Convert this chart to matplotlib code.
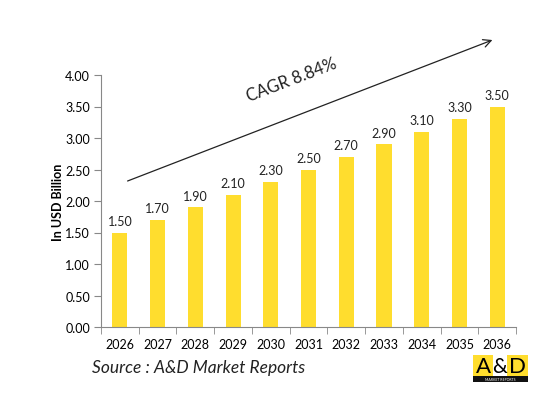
import numpy as np
import matplotlib.pyplot as plt
from matplotlib.patches import Rectangle

years = ['2026', '2027', '2028', '2029', '2030', '2031', '2032', '2033', '2034', '2035', '2036']
values = [1.50, 1.70, 1.90, 2.10, 2.30, 2.50, 2.70, 2.90, 3.10, 3.30, 3.50]
y_ticks = [0.0, 0.5, 1.0, 1.5, 2.0, 2.5, 3.0, 3.5, 4.0]

plt.rcParams['font.family'] = ['Lato', 'DejaVu Sans']

W, H = 558, 410
fig = plt.figure(figsize=(W / 100, H / 100), dpi=100)
ax = fig.add_axes([101 / W, 1 - 328 / H, (516 - 101) / W, (328 - 76) / H])

x = np.arange(len(years))
ax.bar(x, values, width=0.4, color='#FFDD2E')
for xi, v in zip(x, values):
    ax.text(xi, v + 0.09, f'{v:.2f}', ha='center', va='bottom', fontsize=9, color='#222222')

ax.set_xlim(-0.5, len(years) - 0.5)
ax.set_ylim(0, 4)
ax.set_yticks(y_ticks)
ax.set_yticklabels([f'{t:.2f}' for t in y_ticks], fontsize=9)
ax.set_xticks(x)
ax.set_xticklabels(years, fontsize=9)
ax.set_xticks(np.arange(len(years) + 1) - 0.5, minor=True)
ax.tick_params(axis='x', which='major', length=0, pad=8)
ax.tick_params(axis='x', which='minor', length=5, color='#888888')
ax.tick_params(axis='y', length=5, color='#888888', pad=3)
for s in ['top', 'right']:
    ax.spines[s].set_visible(False)
for s in ['left', 'bottom']:
    ax.spines[s].set_color('#888888')
ax.set_ylabel('In USD Billion', fontsize=9, fontweight='bold', labelpad=1)

# CAGR arrow and label (figure pixel coords)
fig.patches.append(plt.matplotlib.patches.FancyArrowPatch(
    (125 / W, 1 - 183 / H), (495 / W, 1 - 40 / H), transform=fig.transFigure,
    arrowstyle='->', mutation_scale=14, color='#222222', lw=0.9))
fig.text(292 / W, 1 - 80 / H, 'CAGR 8.84%', fontsize=12, rotation=21,
         ha='center', va='center', color='#222222')

fig.text(92 / W, 1 - 368 / H, 'Source : A&D Market Reports', fontsize=12.5,
         style='italic', ha='left', va='center', color='#222222')

# logo
lx0, lx1, ly0, ly1 = 473, 528, 356, 383
def fr(x0, y0, x1, y1, c):
    fig.patches.append(Rectangle((x0 / W, 1 - y1 / H), (x1 - x0) / W, (y1 - y0) / H,
                                 transform=fig.transFigure, color=c, lw=0))
fr(lx0, ly0, 493, 377, '#FFDD2E')
fr(493, ly0, 507, 377, 'white')
fr(507, ly0, lx1, 377, '#FFDD2E')
fr(lx0, 377, lx1, ly1, '#111111')
fig.text(483 / W, 1 - 367 / H, 'A', fontsize=16, ha='center', va='center', color='black')
fig.text(500 / W, 1 - 367 / H, '&', fontsize=15, ha='center', va='center', color='black')
fig.text(517.5 / W, 1 - 367 / H, 'D', fontsize=16, ha='center', va='center', color='black')
fig.text(500.5 / W, 1 - 380 / H, 'MARKET REPORTS', fontsize=2.5, ha='center', va='center', color='white')

fig.savefig('out.png', dpi=100)
